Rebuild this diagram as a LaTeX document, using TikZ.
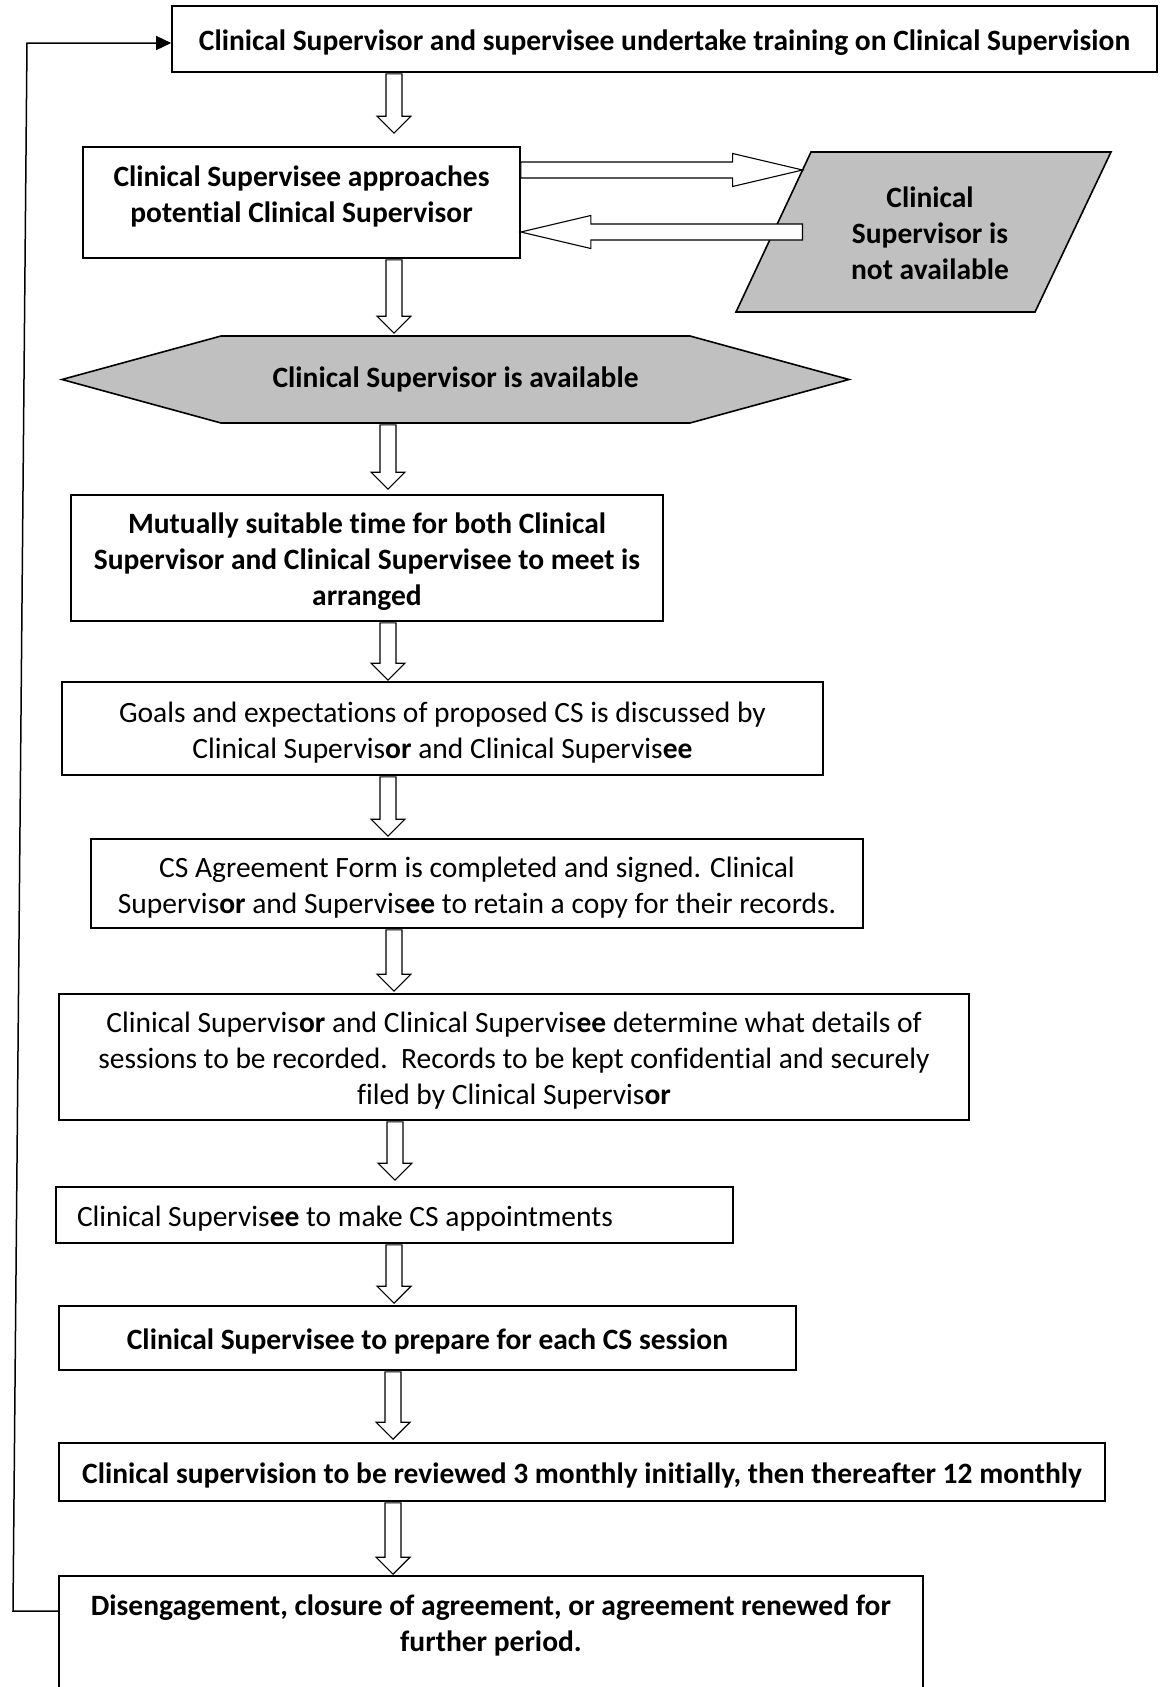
\documentclass[tikz,border=0pt]{standalone}
\usepackage{fontspec}
\setmainfont{Carlito}[Ligatures=NoCommon]
\usetikzlibrary{shapes.symbols,arrows.meta,calc,backgrounds}
\definecolor{boxgray}{HTML}{C0C0C0}

% hollow block arrow pointing down: source, target, x, gap above target
\newcommand{\blockdown}[4]{%
  \draw[blockarrow] let \p1=(#1.south), \p2=(#2.north), \p3=(#3,0) in
    ({\x3-8pt},{\y1-1pt}) -- ({\x3+8pt},{\y1-1pt}) -- ({\x3+8pt},{\y2+#4pt+17pt})
    -- ({\x3+17pt},{\y2+#4pt+17pt}) -- (\x3,{\y2+#4pt}) -- ({\x3-17pt},{\y2+#4pt+17pt})
    -- ({\x3-8pt},{\y2+#4pt+17pt}) -- cycle;}
% hollow block arrow sideways: tail, tip, 1 = right / -1 = left
\newcommand{\blockside}[3]{%
  \draw[blockarrow] let \p1=#1, \p2=#2 in
    (\x1,{\y1+8pt}) -- ({\x2-(#3)*70pt},{\y1+8pt}) -- ({\x2-(#3)*70pt},{\y1+16.5pt})
    -- (\x2,\y1) -- ({\x2-(#3)*70pt},{\y1-16.5pt}) -- ({\x2-(#3)*70pt},{\y1-8pt})
    -- (\x1,{\y1-8pt}) -- cycle;}

\begin{document}
\begin{tikzpicture}[x=1pt, y=-1pt,
    box/.style={draw, line width=1.6pt, fill=white, align=center, inner sep=4pt,
      font=\fontsize{29.5}{36}\selectfont},
    onerow/.style={text height=28pt, text depth=5pt},
    tworow/.style={text height=64pt, text depth=5pt},
    threerow/.style={text height=100pt, text depth=5pt},
    grayshape/.style={box, fill=boxgray},
    blockarrow/.style={line width=1.1pt, fill=white},
    loopline/.style={line width=1.5pt, -{Triangle[length=15pt, width=14pt]}}]
  \useasboundingbox (0,0) rectangle (1161,1687);

  %steps
  \node (train) at (664.5,39) [box, onerow, minimum width=985pt, minimum height=66pt]
    {\bfseries Clinical Supervisor and supervisee undertake training on Clinical Supervision};
  \node (approach) at (301.5,202.5) [box, minimum width=437pt, minimum height=111pt,
    text height=64pt, text depth=24pt]
    {\bfseries Clinical Supervisee approaches\\\bfseries potential Clinical Supervisor};
  \node (notavail) at (930,232) [box, threerow, draw=none, fill=none]
    {\bfseries Clinical\\\bfseries Supervisor is\\\bfseries not available};
  \node (avail) at (455.5,379.5) [grayshape, signal, signal to=west and east,
    signal pointer angle=30.6, minimum width=787pt, minimum height=87pt]
    {\bfseries Clinical Supervisor is available};
  \node (meet) at (367,558) [box, threerow, minimum width=592pt, minimum height=126pt]
    {\bfseries Mutually suitable time for both Clinical\\\bfseries Supervisor and Clinical Supervisee to meet is\\\bfseries arranged};
  \node (goals) at (442.5,728.5) [box, tworow, minimum width=761pt, minimum height=93pt]
    {Goals and expectations of proposed CS is discussed by\\Clinical Supervis\textbf{or} and Clinical Supervis\textbf{ee}};
  \node (form) at (477,883.5) [box, tworow, minimum width=772pt, minimum height=89pt]
    {CS Agreement Form is completed and signed. Clinical\\Supervis\textbf{or} and Supervis\textbf{ee} to retain a copy for their records.};
  \node (records) at (514,1057) [box, threerow, minimum width=910pt, minimum height=126pt]
    {Clinical Supervis\textbf{or} and Clinical Supervis\textbf{ee} determine what details of\\sessions to be recorded.\ \ Records to be kept confidential and securely\\filed by Clinical Supervis\textbf{or}};
  \node (appoint) at (394.5,1215) [box, onerow, align=flush left, text width=635pt,
    inner xsep=21pt, minimum height=56pt]
    {Clinical Supervis\textbf{ee} to make CS appointments};
  \node (prepare) at (427.5,1338) [box, onerow, minimum width=737pt, minimum height=64pt]
    {\bfseries Clinical Supervisee to prepare for each CS session};
  \node (review) at (582,1472) [box, onerow, minimum width=1046pt, minimum height=58pt]
    {\bfseries Clinical supervision to be reviewed 3 monthly initially, then thereafter 12 monthly};
  \node (disengage) at (491,1641) [box, minimum width=864pt, minimum height=130pt,
    text height=64pt, text depth=44pt]
    {\bfseries Disengagement, closure of agreement, or agreement renewed for\\\bfseries further period.};

  %not available shape, behind its text
  \coordinate (natl) at (811,152);
  \coordinate (natr) at (1111,152);
  \coordinate (nabr) at (1035,312);
  \coordinate (nabl) at (736,312);
  \begin{scope}[on background layer]
    \filldraw[line width=1.6pt, fill=boxgray] (natl) -- (natr) -- (nabr) -- (nabl) -- cycle;
  \end{scope}

  %flow down
  \foreach \src/\dst/\xpos/\gap in {train/approach/394/13, approach/avail/394/2, avail/meet/388/5,
      meet/goals/388/1, goals/form/388/2, form/records/394/2, records/appoint/395/6,
      appoint/prepare/394/2, prepare/review/393/3, review/disengage/393/1}{
    \blockdown{\src}{\dst}{\xpos}{\gap}
  }

  %not available loop
  \blockside{([yshift=32.5pt]approach.east)}{($(nabl)!0.8875!(natl)$)}{1}
  \blockside{([xshift=29pt]$(nabl)!0.5!(natl)$)}{(approach.east)}{-1}

  %back to training
  \coordinate (loopbot) at (13,1611);
  \coordinate (looptop) at (27,43);
  \draw[loopline] (disengage.west |- loopbot) -- (loopbot) -- (looptop) -- (train.west |- looptop);
\end{tikzpicture}
\end{document}
